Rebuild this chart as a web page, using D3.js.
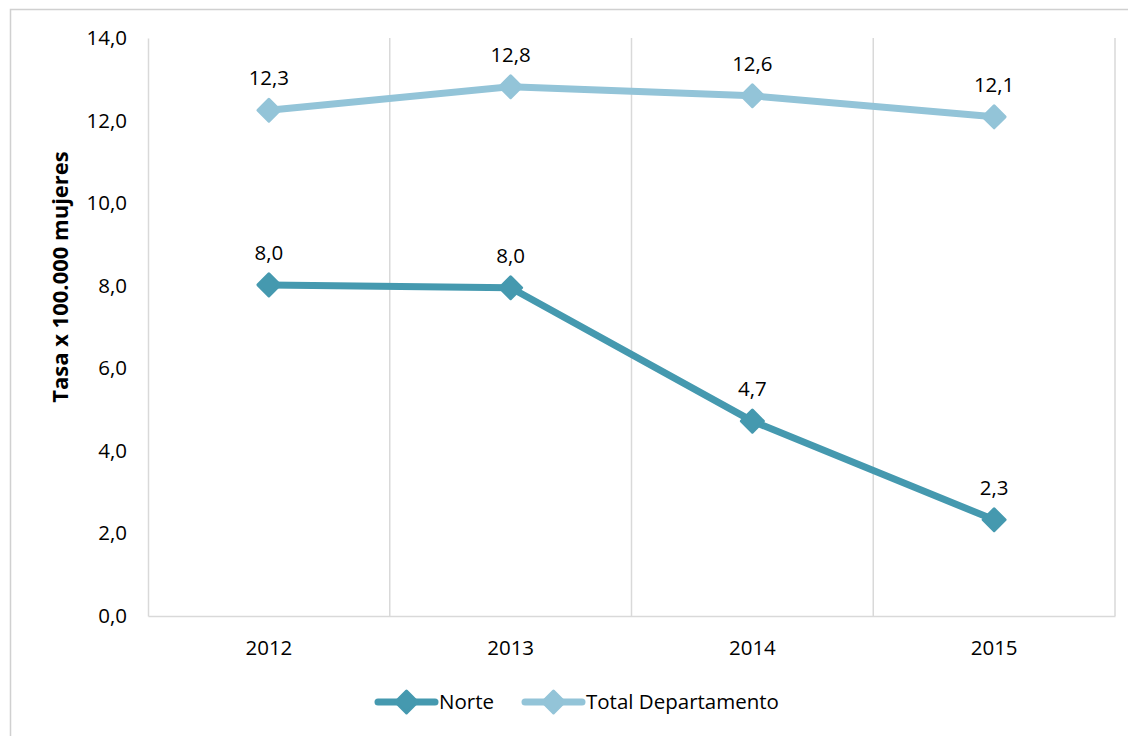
<!DOCTYPE html>
<html><head><meta charset="utf-8">
<script src="https://cdn.jsdelivr.net/npm/d3@7"></script>
<style>body{margin:0;background:#fff;}svg{display:block;font-family:"Open Sans","Noto Sans",sans-serif;}</style>
</head><body>
<svg id="c" width="1128" height="736"></svg>
<script>
const categories = ["2012","2013","2014","2015"];
const norte = [8.02, 7.95, 4.72, 2.33];
const total = [12.25, 12.82, 12.6, 12.09];
const norteLabels = ["8,0","8,0","4,7","2,3"];
const totalLabels = ["12,3","12,8","12,6","12,1"];
const yTicks = [0,2,4,6,8,10,12,14];
const seriesNames = ["Norte","Total Departamento"];
const colors = ["#4599AF","#93C4D8"];
const FS = 20.5;

const svg = d3.select("#c");
svg.append("rect").attr("x",10.5).attr("y",9.5).attr("width",1130).attr("height",740)
  .attr("fill","#fff").attr("stroke","#d0d0d0").attr("stroke-width",1.5);

const L=148,R=1115,T=38,B=616;
const x = d3.scaleBand().domain(categories).range([L,R]);
const y = d3.scaleLinear().domain([0,14]).range([B,T]);

const g = svg.append("g");
categories.forEach((c,i)=>{
  const xx = x(c)+x.bandwidth();
  g.append("line").attr("x1",xx).attr("x2",xx).attr("y1",T).attr("y2",B).attr("stroke","#d9d9d9").attr("stroke-width",1.5);
});
const yAxis = d3.axisLeft(y).tickValues(yTicks).tickSize(0).tickPadding(21).tickFormat(d=>d3.format(".1f")(d).replace(".",","));
const ya = svg.append("g").attr("transform",`translate(${L},0)`).call(yAxis);
ya.select(".domain").attr("stroke","#d9d9d9").attr("stroke-width",1.5);
ya.selectAll("text").attr("font-size",FS).attr("fill","#000").attr("font-family","'Open Sans',sans-serif");
const xAxis = d3.axisBottom(x).tickSize(0).tickPadding(24);
const xa = svg.append("g").attr("transform",`translate(0,${B})`).call(xAxis);
xa.select(".domain").attr("stroke","#d9d9d9").attr("stroke-width",1.5);
xa.selectAll("text").attr("font-size",FS).attr("fill","#000").attr("font-family","'Open Sans',sans-serif");

svg.append("text").attr("transform",`translate(68,${(T+B)/2-50}) rotate(-90)`)
  .attr("text-anchor","middle").attr("font-size",22).attr("font-weight","bold").text("Tasa x 100.000 mujeres");

function drawSeries(vals, labels, color){
  const cx = c=>x(c)+x.bandwidth()/2;
  const line = d3.line().x((d,i)=>cx(categories[i])).y(d=>y(d));
  svg.append("path").datum(vals).attr("d",line).attr("fill","none").attr("stroke",color)
    .attr("stroke-width",7).attr("stroke-linejoin","round").attr("stroke-linecap","round");
  vals.forEach((v,i)=>{
    svg.append("path").attr("d",d3.symbol().type(d3.symbolSquare).size(240)())
      .attr("transform",`translate(${cx(categories[i])},${y(v)}) rotate(45)`).attr("fill",color)
      .attr("stroke",color).attr("stroke-width",3).attr("stroke-linejoin","round");
    svg.append("text").attr("x",cx(categories[i])).attr("y",y(v)-25).attr("text-anchor","middle")
      .attr("font-size",FS).attr("fill","#000").text(labels[i]);
  });
}
drawSeries(norte, norteLabels, colors[0]);
drawSeries(total, totalLabels, colors[1]);

const leg = [{x:378,name:seriesNames[0],c:colors[0]},{x:525,name:seriesNames[1],c:colors[1]}];
leg.forEach(l=>{
  const ly=702;
  svg.append("line").attr("x1",l.x).attr("x2",l.x+57).attr("y1",ly).attr("y2",ly).attr("stroke",l.c).attr("stroke-width",7).attr("stroke-linecap","round");
  svg.append("path").attr("d",d3.symbol().type(d3.symbolSquare).size(240)())
    .attr("transform",`translate(${l.x+28.5},${ly}) rotate(45)`).attr("fill",l.c).attr("stroke",l.c).attr("stroke-width",3).attr("stroke-linejoin","round");
  svg.append("text").attr("x",l.x+61).attr("y",ly).attr("dy","0.35em").attr("font-size",FS).attr("fill","#000").text(l.name);
});
</script>
</body></html>
